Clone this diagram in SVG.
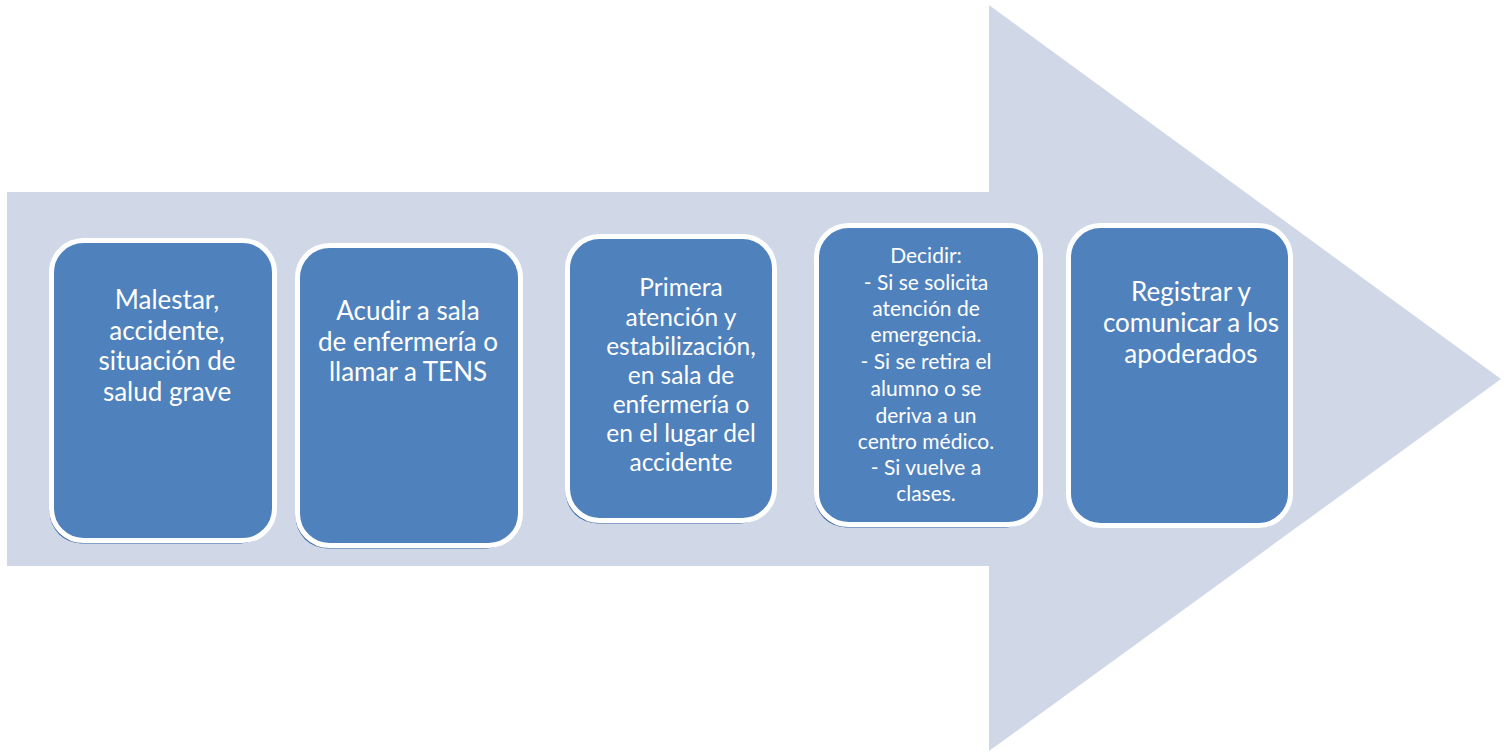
<svg xmlns="http://www.w3.org/2000/svg" width="1508" height="752" viewBox="0 0 1508 752">
<style>
.box{fill:#4f81bd;stroke:#ffffff;stroke-width:5}
.sh{fill:#3d6aa6}
.t{font-family:Lato,"Open Sans","Liberation Sans",sans-serif;fill:#ffffff;text-anchor:middle;font-size:26px}
.m{font-size:24.5px}
.s{font-size:21px}
</style>
<rect width="1508" height="752" fill="#ffffff"/>
<polygon id="arrow" points="7,192 989,192 989,5 1501,379 989,751 989,566 7,566" fill="#d0d8e8"/>
<g id="connectors"></g>
<g id="n1">
<rect class="sh" x="49.5" y="243.5" width="223" height="300" rx="32"/>
<rect class="box" x="51.5" y="240.5" width="223" height="300" rx="32"/>
<text class="t" x="167" y="309">Malestar,</text>
<text class="t" x="167" y="340">accidente,</text>
<text class="t" x="167" y="370">situación de</text>
<text class="t" x="167" y="401">salud grave</text>
</g>
<g id="n2">
<rect class="sh" x="295.5" y="248.5" width="223" height="300" rx="32"/>
<rect class="box" x="297.5" y="245.5" width="223" height="300" rx="32"/>
<text class="t" x="408" y="320">Acudir a sala</text>
<text class="t" x="408" y="351">de enfermería o</text>
<text class="t" x="408" y="381">llamar a TENS</text>
</g>
<g id="n3">
<rect class="sh" x="565.5" y="239.5" width="207" height="284" rx="32"/>
<rect class="box" x="567.5" y="236.5" width="207" height="284" rx="32"/>
<text class="t m" x="681" y="296">Primera</text>
<text class="t m" x="681" y="326">atención y</text>
<text class="t m" x="681" y="355">estabilización,</text>
<text class="t m" x="681" y="384">en sala de</text>
<text class="t m" x="681" y="413">enfermería o</text>
<text class="t m" x="681" y="442">en el lugar del</text>
<text class="t m" x="681" y="471">accidente</text>
</g>
<g id="n4">
<rect class="sh" x="814.5" y="228.5" width="224" height="299" rx="32"/>
<rect class="box" x="816.5" y="225.5" width="224" height="299" rx="32"/>
<text class="t s" x="926" y="263">Decidir:</text>
<text class="t s" x="926" y="290">- Si se solicita</text>
<text class="t s" x="926" y="316">atención de</text>
<text class="t s" x="926" y="342">emergencia.</text>
<text class="t s" x="926" y="369">- Si se retira el</text>
<text class="t s" x="926" y="396">alumno o se</text>
<text class="t s" x="926" y="423">deriva a un</text>
<text class="t s" x="926" y="449">centro médico.</text>
<text class="t s" x="926" y="475">- Si vuelve a</text>
<text class="t s" x="926" y="501">clases.</text>
</g>
<g id="n5">
<rect class="box" x="1068.5" y="225.5" width="222" height="300" rx="32"/>
<text class="t" x="1191" y="301">Registrar y</text>
<text class="t" x="1191" y="332">comunicar a los</text>
<text class="t" x="1191" y="363">apoderados</text>
</g>
</svg>
